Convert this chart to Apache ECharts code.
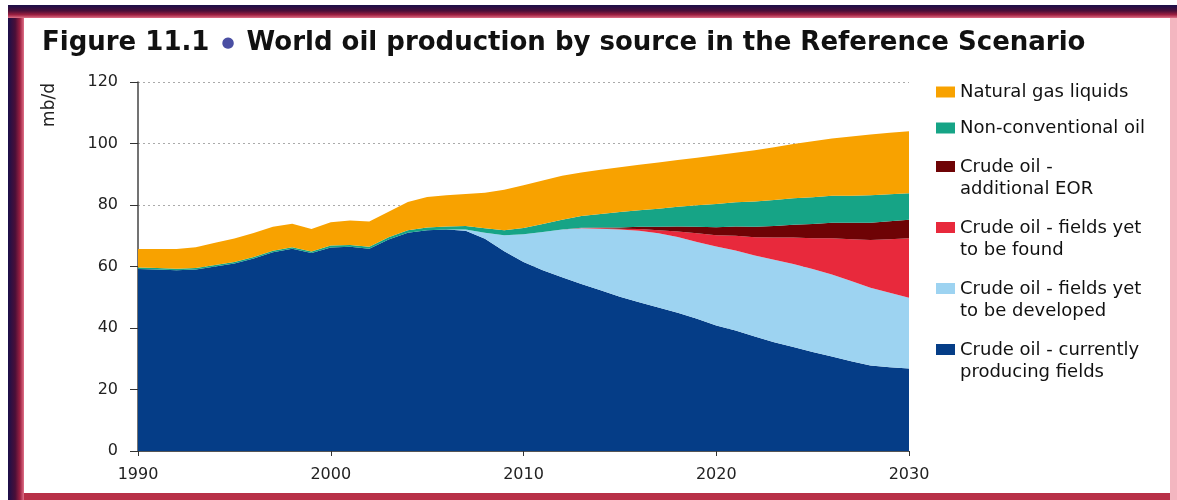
<!DOCTYPE html>
<html>
<head>
<meta charset="utf-8">
<script src="https://cdn.jsdelivr.net/npm/echarts@6/dist/echarts.min.js"></script>
<style>
html,body{margin:0;padding:0;background:#fff;}
#c{width:1177px;height:500px;}
</style>
</head>
<body>
<div id="c"></div>
<script>
// ---- data (mb/d) ----
var years = ['1990','1991','1992','1993','1994','1995','1996','1997','1998','1999',
             '2000','2001','2002','2003','2004','2005','2006','2007','2008','2009',
             '2010','2011','2012','2013','2014','2015','2016','2017','2018','2019',
             '2020','2021','2022','2023','2024','2025','2026','2027','2028','2029','2030'];
var currentlyProducing = [59.2,59.0,58.8,59.0,60.0,61.0,62.6,64.6,65.8,64.4,
             66.2,66.4,65.8,68.8,71.0,71.8,72.0,71.6,69.0,65.0,
             61.5,58.8,56.5,54.3,52.3,50.2,48.4,46.7,45.0,43.0,
             40.8,39.2,37.2,35.4,33.8,32.2,30.7,29.2,27.8,27.2,26.8];
var yetToBeDeveloped = [0,0,0,0,0,0,0,0,0,0,
             0,0,0,0,0,0,0,0.4,2.0,5.2,
             9.0,12.4,15.5,18.1,20.0,21.8,23.2,24.1,24.6,25.0,
             25.7,26.0,26.4,26.8,27.0,27.0,26.7,26.1,25.3,24.3,23.0];
var yetToBeFound = [0,0,0,0,0,0,0,0,0,0,
             0,0,0,0,0,0,0,0,0,0,
             0,0,0,0.1,0.2,0.3,0.6,1.0,1.8,2.8,
             3.7,4.8,5.9,7.2,8.6,10.0,11.8,13.6,15.5,17.4,19.4];
var additionalEOR = [0,0,0,0,0,0,0,0,0,0,
             0,0,0,0,0,0,0,0,0,0,
             0,0,0,0.1,0.2,0.4,0.7,1.1,1.6,2.1,
             2.6,3.0,3.4,3.8,4.2,4.6,5.0,5.3,5.6,5.8,6.0];
var nonConventional = [0.5,0.5,0.5,0.5,0.5,0.5,0.5,0.5,0.5,0.5,
             0.6,0.6,0.6,0.7,0.8,0.9,1.0,1.2,1.4,1.6,
             2.0,2.6,3.2,3.8,4.4,5.0,5.4,5.9,6.4,7.0,
             7.5,7.9,8.2,8.4,8.6,8.7,8.8,8.8,9.0,8.8,8.6];
var naturalGasLiquids = [6.0,6.2,6.4,6.8,7.2,7.6,7.8,7.8,7.6,7.3,
             7.6,8.0,8.2,8.3,9.2,9.9,10.2,10.4,11.6,13.2,
             13.9,14.2,14.3,14.2,14.4,14.6,14.8,15.0,15.2,15.5,
             15.9,16.1,16.7,17.2,17.6,18.2,18.6,19.3,19.7,20.0,20.2];
var seriesNames = ['Crude oil - currently producing fields','Crude oil - fields yet to be developed',
  'Crude oil - fields yet to be found','Crude oil - additional EOR','Non-conventional oil','Natural gas liquids'];
var legendLabels = {
  'Natural gas liquids':'Natural gas liquids',
  'Non-conventional oil':'Non-conventional oil',
  'Crude oil - additional EOR':'Crude oil -\nadditional EOR',
  'Crude oil - fields yet to be found':'Crude oil - fields yet\nto be found',
  'Crude oil - fields yet to be developed':'Crude oil - fields yet\nto be developed',
  'Crude oil - currently producing fields':'Crude oil - currently\nproducing fields'
};
var yTicks = {min:0, max:120, interval:20};

var colors = ['#053d87','#9dd3f1','#e8293c','#6e0305','#16a486','#f8a200'];
var values = [currentlyProducing, yetToBeDeveloped, yetToBeFound, additionalEOR, nonConventional, naturalGasLiquids];

var FONT = 'DejaVu Sans';
var series = values.map(function(arr, i){
  return {
    name: seriesNames[i], type:'line', stack:'total', symbol:'none', smooth:false,
    lineStyle:{width:0}, areaStyle:{color:colors[i], opacity:1}, itemStyle:{color:colors[i]},
    data: arr, z: 2
  };
});

var chart = echarts.init(document.getElementById('c'), null, {renderer:'canvas'});
chart.setOption({
  animation:false,
  backgroundColor:'#ffffff',
  color: colors,
  title:{
    left:37, top:25,
    text:'{a|Figure 11.1}{b|●}{c|World oil production by source in the Reference Scenario}',
    textStyle:{
      rich:{
        a:{fontFamily:FONT, fontWeight:'bold', fontSize:26, color:'#111'},
        b:{fontFamily:FONT, fontSize:15, color:'#4a4fa3', padding:[0,12,0,12]},
        c:{fontFamily:FONT, fontWeight:'bold', fontSize:26, color:'#111'}
      }
    }
  },
  grid:{left:138, right:268, top:82, bottom:49},
  xAxis:{
    type:'category', data:years, boundaryGap:false,
    axisLine:{show:true, lineStyle:{color:'#555', width:1}},
    axisTick:{show:true, length:5, interval:9, lineStyle:{color:'#333'}},
    axisLabel:{margin:16, interval:9, fontFamily:FONT, fontSize:16, color:'#222'},
    splitLine:{show:false}
  },
  yAxis:{
    type:'value', min:yTicks.min, max:yTicks.max, interval:yTicks.interval,
    axisLine:{show:true, lineStyle:{color:'#444', width:1.5}},
    axisTick:{show:true, length:8, lineStyle:{color:'#333'}},
    axisLabel:{margin:20, fontFamily:FONT, fontSize:16, color:'#222'},
    splitLine:{show:true, lineStyle:{color:'#aaa', type:[2,3], width:1}}
  },
  legend:[{
    orient:'vertical', left:931, top:78, itemWidth:19, itemHeight:11, itemGap:18,
    icon:'rect', selectedMode:false,
    data:['Natural gas liquids','Non-conventional oil'],
    formatter:function(n){return legendLabels[n];},
    textStyle:{fontFamily:FONT, fontSize:18, lineHeight:18, color:'#111'}
  },{
    orient:'vertical', left:931, top:151, itemWidth:19, itemHeight:44, itemGap:17,
    icon:'path://M0,0 M0,5 L19,5 L19,16 L0,16 Z M0,44', selectedMode:false,
    data:['Crude oil - additional EOR','Crude oil - fields yet to be found',
          'Crude oil - fields yet to be developed','Crude oil - currently producing fields'],
    formatter:function(n){return legendLabels[n];},
    textStyle:{fontFamily:FONT, fontSize:18, lineHeight:22, color:'#111'}
  }],
  graphic:[
    {type:'rect', shape:{x:8,y:5,width:1169,height:495}, style:{fill:'#b83048'}, z:-10, silent:true},
    {type:'rect', shape:{x:8,y:5,width:16,height:495}, style:{fill:new echarts.graphic.LinearGradient(0,0,1,0,[{offset:0,color:'#1a0f4a'},{offset:0.45,color:'#4a0f38'},{offset:0.75,color:'#9c1f40'},{offset:1,color:'#e07088'}])}, z:-9, silent:true},
    {type:'rect', shape:{x:8,y:5,width:1169,height:13}, style:{fill:new echarts.graphic.LinearGradient(0,0,0,1,[{offset:0,color:'#1a0f4a'},{offset:0.45,color:'#4a0f38'},{offset:0.75,color:'#9c1f40'},{offset:1,color:'#e07088'}])}, z:-9, silent:true},
    {type:'rect', shape:{x:1170,y:18,width:7,height:482}, style:{fill:'#f3b6c0'}, z:-8, silent:true},
    {type:'rect', shape:{x:24,y:18,width:1146,height:475}, style:{fill:'#ffffff'}, z:-7, silent:true},
    {type:'text', x:50, y:105, rotation:Math.PI/2, style:{text:'mb/d', fontFamily:FONT, fontSize:17, fill:'#222', align:'center', verticalAlign:'middle'}, z:5}
  ],
  series: series
});
</script>
</body>
</html>
